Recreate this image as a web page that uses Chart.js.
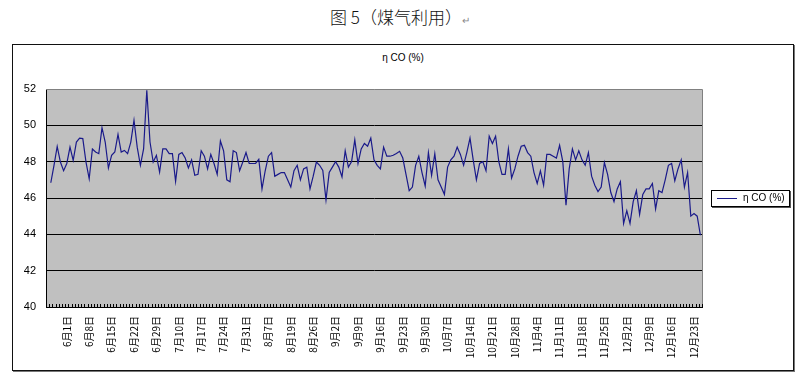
<!DOCTYPE html>
<html>
<head>
<meta charset="utf-8">
<script src="https://cdn.jsdelivr.net/npm/chart.js@4.4.1/dist/chart.umd.min.js"></script>
<style>
  html, body { margin: 0; padding: 0; background: #fff; }
  #wrap { position: relative; width: 800px; height: 375px; overflow: hidden; }
  #pageTitle { position: absolute; left: 0; top: 4px; width: 800px; text-align: center;
    font-family: "Noto Sans CJK SC", "Liberation Serif", serif; font-weight: 300; font-size: 17px; color: #111; }
  #pageTitle .ret { font-size: 10px; color: #888; }
  #frame { position: absolute; left: 12px; top: 44px; width: 780px; height: 325px;
    border: 1px solid #111; box-shadow: 1px 1px 0 #777; }
  #chartTitle { position: absolute; left: 12px; top: 52px; width: 782px; text-align: center;
    font-family: "Liberation Sans", Arial, sans-serif; font-size: 10px; color: #000; }
  #legend { position: absolute; left: 711px; top: 190px; width: 77px; height: 15px;
    border: 1px solid #000; box-shadow: 1px 1px 0 #555; background: #fff;
    font-family: "Liberation Sans", Arial, sans-serif; font-size: 10px; color: #000; }
  #legend .swatch { position: absolute; left: 5px; top: 7px; width: 20px; height: 0;
    border-top: 1px solid #1a1a8a; }
  #legend .txt { position: absolute; left: 31px; top: 1px; white-space: nowrap; }
  canvas { position: absolute; left: 0; top: 0; }
</style>
</head>
<body>
<div id="wrap">
  <div id="pageTitle">图 5（煤气利用）<span class="ret">↵</span></div>
  <div id="frame"></div>
  <div id="chartTitle">η CO (%)</div>
  <canvas id="c" width="800" height="375"></canvas>
  <div id="legend"><div class="swatch"></div><div class="txt">η CO (%)</div></div>
</div>
<script>
const seriesName = 'η CO (%)';

const tickLabels = ['6月1日','6月8日','6月15日','6月22日','6月29日','7月10日','7月17日','7月24日','7月31日',
  '8月7日','8月19日','8月26日','9月2日','9月9日','9月16日','9月23日','9月30日','10月7日','10月14日',
  '10月21日','10月28日','11月4日','11月11日','11月18日','11月25日','12月2日','12月9日','12月16日','12月23日'];
const firstLabelIndex = 6;
const labelStep = 7;

const etaCO = [null,
  46.84,47.8,48.84,47.98,47.5,47.9,48.8,48.07,49.08,49.3,
  49.27,47.98,47.06,48.7,48.53,48.44,49.87,49.08,47.65,48.35,
  48.53,49.5,48.53,48.62,48.44,49.08,50.28,48.8,47.8,48.7,
  51.93,49.08,47.98,48.35,47.43,48.7,48.7,48.44,48.44,46.92,
  48.4,48.5,48.2,47.65,48.1,47.25,47.3,48.6,48.3,47.6,
  48.4,47.9,47.3,49.14,48.6,47.0,46.9,48.6,48.5,47.5,
  47.98,48.5,47.9,47.9,47.9,48.13,46.5,47.5,48.3,48.5,
  47.2,47.3,47.4,47.4,47.0,46.6,47.5,47.8,47.0,47.6,
  47.7,46.5,47.2,47.98,47.8,47.52,45.9,47.4,47.7,48.0,
  47.7,47.16,48.6,47.7,48.0,49.2,47.9,48.7,49.0,48.85,
  49.3,48.1,47.8,47.6,48.8,48.3,48.3,48.35,48.45,48.57,
  48.2,47.3,46.4,46.6,47.8,48.3,47.4,46.66,48.5,47.25,
  48.44,47.0,46.6,46.2,47.7,48.1,48.3,48.8,48.4,47.8,
  48.5,49.3,48.1,47.0,47.9,48.0,47.5,49.4,49.0,49.4,
  48.0,47.3,47.3,48.7,47.1,47.6,48.3,48.85,48.9,48.5,
  48.3,47.4,46.8,47.5,46.7,48.4,48.4,48.3,48.2,48.9,
  48.0,45.6,47.6,48.7,48.1,48.6,48.1,47.8,48.5,47.2,
  46.7,46.35,46.6,47.95,47.3,46.3,45.8,46.5,46.9,44.6,
  45.3,44.6,45.8,46.4,45.1,46.2,46.5,46.5,46.8,45.4,
  46.4,46.3,47.0,47.8,47.9,46.95,47.6,48.1,46.6,47.4,
  45.0,45.14,45.0,43.95];

const yMin = 40, yMax = 52, yStep = 2;

const categories = etaCO.map((_, i) => {
  const k = (i - firstLabelIndex) / labelStep;
  return (Number.isInteger(k) && k >= 0 && k < tickLabels.length) ? tickLabels[k] : '';
});

const plotBg = {
  id: 'plotBg',
  beforeDraw(chart) {
    const {ctx, chartArea: a} = chart;
    ctx.save();
    ctx.fillStyle = '#C0C0C0';
    ctx.fillRect(a.left, a.top, a.width, a.height);
    ctx.restore();
  },
  afterDatasetsDraw(chart) {
    const {ctx, chartArea: a} = chart;
    const xs = chart.scales.x;
    const half = (xs.getPixelForValue(1) - xs.getPixelForValue(0)) / 2;
    ctx.save();
    ctx.strokeStyle = '#808080';
    ctx.lineWidth = 1;
    ctx.beginPath();
    ctx.moveTo(a.left, a.top + 0.5); ctx.lineTo(a.right + 0.5, a.top + 0.5);
    ctx.lineTo(a.right + 0.5, a.bottom);
    ctx.stroke();
    ctx.strokeStyle = '#000';
    ctx.beginPath();
    for (let i = 0; i <= categories.length; i++) {
      const x = Math.round(xs.getPixelForValue(i) - half) + 0.5;
      ctx.moveTo(x, a.bottom - 3); ctx.lineTo(x, a.bottom);
    }
    ctx.stroke();
    ctx.restore();
  }
};

new Chart(document.getElementById('c'), {
  type: 'line',
  data: {
    labels: categories,
    datasets: [{
      label: seriesName,
      data: etaCO,
      borderColor: '#1a1a8a',
      backgroundColor: '#1a1a8a',
      borderWidth: 1.2,
      pointRadius: 0,
      tension: 0,
      spanGaps: false
    }]
  },
  options: {
    responsive: false,
    animation: false,
    devicePixelRatio: 1,
    layout: { padding: { left: 12, top: 89, right: 98, bottom: 0 } },
    plugins: { legend: { display: false }, title: { display: false }, tooltip: { enabled: false } },
    scales: {
      x: {
        type: 'category',
        offset: true,
        grid: { display: false, drawTicks: false },
        border: { display: true, color: '#000', width: 1 },
        ticks: {
          autoSkip: false, minRotation: 90, maxRotation: 90, padding: 9,
          color: '#000',
          font: { family: '"Noto Sans CJK SC", sans-serif', size: 10 },
          callback: (v, i) => categories[i]
        },
        afterFit(scale) { scale.height = 68; }
      },
      y: {
        min: yMin, max: yMax,
        grid: {
          drawTicks: false,
          color: (c) => (c.tick && c.tick.value === yMax) ? 'rgba(0,0,0,0)' : '#000',
          lineWidth: 1
        },
        border: { display: true, color: '#000', width: 1 },
        ticks: {
          stepSize: yStep, padding: 10, color: '#000',
          font: { family: '"Liberation Sans", Arial, sans-serif', size: 11 }
        },
        afterFit(scale) { scale.width = 34; }
      }
    }
  },
  plugins: [plotBg]
});
</script>
</body>
</html>
